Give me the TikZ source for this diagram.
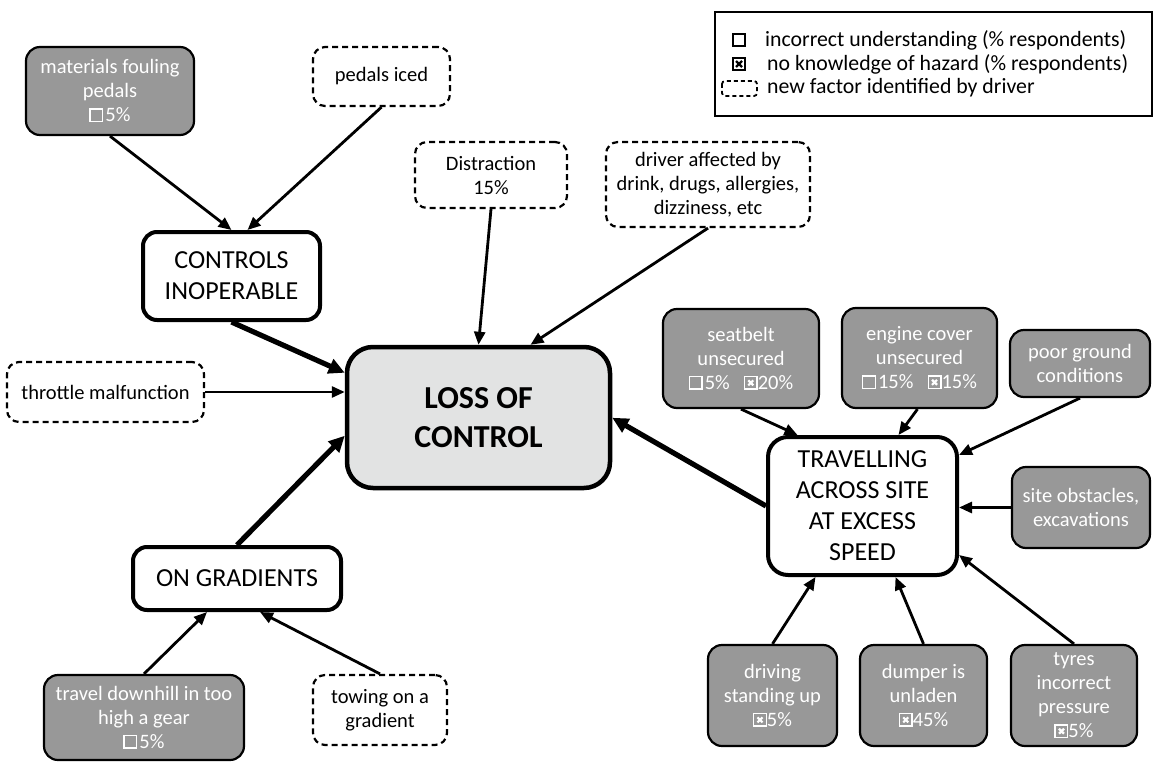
\documentclass[tikz,border=0pt]{standalone}
\usepackage{fontspec}
\setmainfont{Carlito}
\usetikzlibrary{arrows.meta}
\definecolor{boxgrey}{RGB}{152,152,152}
\definecolor{lossgrey}{RGB}{226,227,227}
\newcommand{\sqsym}[1]{\tikz[baseline=0pt]{\draw[draw=#1,line width=1.4pt,solid,sharp corners,fill=none] (0.7pt,0.2pt) rectangle (13.3pt,12.8pt);}}
\newcommand{\xsym}[1]{\tikz[baseline=0pt]{\draw[draw=#1,line width=1.4pt,solid,sharp corners,fill=none] (0.7pt,0.2pt) rectangle (13.3pt,12.8pt);\draw[draw=#1,line width=2.2pt,solid] (4.5pt,4pt)--(9.5pt,9pt) (4.5pt,9pt)--(9.5pt,4pt);}}
\tikzset{
 txtbase/.style={align=center, inner sep=0pt, font=\fontsize{20.5}{24}\selectfont},
 greybox/.style={txtbase, draw=black, line width=2.2pt, fill=boxgrey, text=white, rounded corners=14pt},
 newbox/.style={txtbase, draw=black, line width=2.2pt, dash pattern=on 6pt off 4pt, rounded corners=12pt, fill=white},
 mainbox/.style={txtbase, draw=black, line width=4pt, fill=white, rounded corners=14pt, font=\fontsize{26}{31}\selectfont},
 lossbox/.style={txtbase, draw=black, line width=4.5pt, fill=lossgrey, rounded corners=26pt, font=\fontsize{32}{39}\selectfont\bfseries},
 legtext/.style={anchor=west, inner sep=0pt, font=\fontsize{21.8}{22}\selectfont},
 thinarrow/.style={draw, line width=2.8pt, -{Triangle[length=13pt,width=11pt]}},
 thickarrow/.style={draw, line width=5.2pt, -{Triangle[length=16pt,width=15pt]}},
}
\begin{document}
\begin{tikzpicture}[x=1pt,y=-1pt]
\useasboundingbox (0,0) rectangle (1155,762);
% legend
\node[draw=black, line width=2pt, minimum width=437pt, minimum height=104pt, inner sep=0pt] (legend) at (933.5,64) {};
\node[legtext] (leg1) at (765,40) {incorrect understanding (\% respondents)};
\node[legtext] (leg2) at (767,64) {no knowledge of hazard (\% respondents)};
\node[legtext] (leg3) at (767,88) {new factor identified by driver};
\draw[line width=1.5pt] (733,34) rectangle (745,46);
\draw[line width=1.5pt] (733,58) rectangle (745,70);
\draw[line width=2.2pt] (736,61) -- (742,67) (736,67) -- (742,61);
\draw[line width=1.8pt, dash pattern=on 4pt off 3pt, rounded corners=3pt] (722,81) rectangle (757,96);
% nodes
\node[greybox, minimum width=168pt, minimum height=88pt] (mat) at (110,91) {materials fouling\\pedals\\\sqsym{white}\hspace{2pt}5\%};
\node[newbox, minimum width=137pt, minimum height=59pt] (iced) at (381.5,76.5) {pedals iced};
\node[newbox, minimum width=152pt, minimum height=66pt] (distr) at (491,175) {Distraction\\15\%};
\node[newbox, minimum width=204pt, minimum height=85pt] (drv) at (708,184.5) {driver affected by\\drink, drugs, allergies,\\dizziness, etc};
\node[mainbox, minimum width=177pt, minimum height=88pt] (ctrl) at (231.5,276) {CONTROLS\\INOPERABLE};
\node[newbox, minimum width=197pt, minimum height=60pt] (thr) at (105.5,392) {throttle malfunction};
\node[lossbox, minimum width=263pt, minimum height=141pt] (loss) at (478.5,417.5) {LOSS OF\\CONTROL};
\node[greybox, minimum width=156pt, minimum height=99pt] (seat) at (741,358.5) {seatbelt\\unsecured\\\sqsym{white}\hspace{2pt}5\%\hspace{14pt}\xsym{white}20\%};
\node[greybox, minimum width=155pt, minimum height=100pt] (eng) at (919.5,358) {engine cover\\unsecured\\\sqsym{white}\hspace{2pt}15\%\hspace{14pt}\xsym{white}15\%};
\node[greybox, minimum width=140pt, minimum height=67pt] (poor) at (1080,363.5) {poor ground\\conditions};
\node[mainbox, minimum width=189pt, minimum height=138pt, rounded corners=20pt] (trav) at (862.5,506) {TRAVELLING\\ACROSS SITE\\AT EXCESS\\SPEED};
\node[greybox, minimum width=138pt, minimum height=81pt] (site) at (1081,507.5) {site obstacles,\\excavations};
\node[mainbox, minimum width=208pt, minimum height=63pt] (grad) at (237,578.5) {ON GRADIENTS};
\node[greybox, minimum width=200pt, minimum height=85pt] (down) at (144,717.5) {travel downhill in too\\high a gear\\\sqsym{white}\hspace{2pt}5\%};
\node[newbox, minimum width=134pt, minimum height=70pt] (tow) at (380,710) {towing on a\\gradient};
\node[greybox, minimum width=129pt, minimum height=101pt] (drive) at (772.5,695.5) {driving\\standing up\\\xsym{white}5\%};
\node[greybox, minimum width=127pt, minimum height=101pt] (dump) at (923.5,695.5) {dumper is\\unladen\\\xsym{white}45\%};
\node[greybox, minimum width=126pt, minimum height=101pt] (tyre) at (1074,695.5) {tyres\\incorrect\\pressure\\\xsym{white}5\%};
% connectors
\draw[thinarrow] (mat.south) -- (ctrl.north);
\draw[thinarrow] (iced.south) -- ([xshift=16pt]ctrl.north);
\draw[thinarrow] (distr.south) -- (loss.north);
\draw[thinarrow] (drv.south) -- ([xshift=52pt]loss.north);
\draw[thickarrow] (ctrl.south) -- ([yshift=-28pt]loss.north west);
\draw[thinarrow] (thr.east) -- (thr.east -| loss.west);
\draw[thickarrow] (grad.north) -- ([yshift=-91pt]loss.north west);
\draw[thickarrow] (trav.west) -- ([yshift=-73pt]loss.north east);
\draw[thinarrow] (seat.south) -- ([xshift=-65pt]trav.north);
\draw[thinarrow] ([xshift=-2pt]eng.south) -- ([xshift=36pt]trav.north);
\draw[thinarrow] (poor.south) -- ([yshift=-20pt]trav.north east);
\draw[thinarrow] (site.west) -- (site.west -| trav.east);
\draw[thinarrow] (tyre.north) -- ([yshift=22pt]trav.south east);
\draw[thinarrow] (drive.north) -- ([xshift=-47pt]trav.south);
\draw[thinarrow] (dump.north) -- ([xshift=33pt]trav.south);
\draw[thinarrow] (down.north) -- ([xshift=-30pt]grad.south);
\draw[thinarrow] (tow.north) -- ([xshift=23pt]grad.south);
\end{tikzpicture}
\end{document}
